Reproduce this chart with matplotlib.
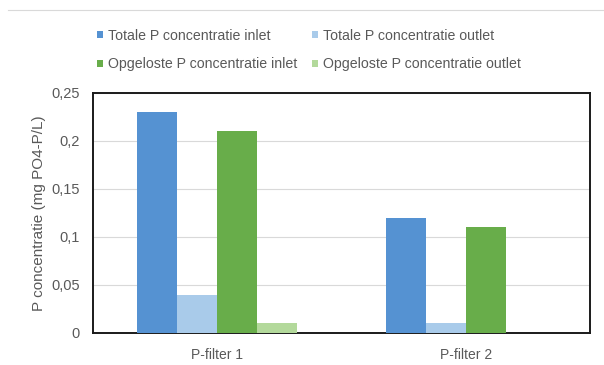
import matplotlib
matplotlib.use("Agg")
import matplotlib.pyplot as plt
from matplotlib.lines import Line2D
import numpy as np

plt.rcParams['font.family'] = ['Liberation Sans', 'DejaVu Sans']

categories = ["P-filter 1", "P-filter 2"]
series_names = [
    "Totale P concentratie inlet",
    "Totale P concentratie outlet",
    "Opgeloste P concentratie inlet",
    "Opgeloste P concentratie outlet",
]
totaal_inlet = [0.23, 0.12]
totaal_outlet = [0.04, 0.01]
opgelost_inlet = [0.21, 0.11]
opgelost_outlet = [0.01, 0.0]
y_ticks = [0, 0.05, 0.1, 0.15, 0.2, 0.25]
y_ticklabels = ["0", "0,05", "0,1", "0,15", "0,2", "0,25"]

colors = ["#5592D2", "#A9CBEA", "#68AD4A", "#B3D99B"]
TEXT = "#595959"

fig = plt.figure(figsize=(6.04, 3.65), dpi=100)
ax = fig.add_axes([93/604, 1 - 333/365, (590-93)/604, (333-93)/365])

x = np.arange(len(categories))
width = 0.161
all_series = [totaal_inlet, totaal_outlet, opgelost_inlet, opgelost_outlet]
handles = []
for i, (vals, name, col) in enumerate(zip(all_series, series_names, colors)):
    offs = (i - 1.5) * width
    b = ax.bar(x + offs, vals, width, color=col, label=name, zorder=3)
    handles.append(b)

ax.set_xlim(-0.5, 1.5)
ax.set_ylim(0, 0.25)
ax.set_yticks(y_ticks)
ax.set_yticklabels(y_ticklabels)
ax.set_xticks(x)
ax.set_xticklabels(categories)
ax.tick_params(axis='both', length=0, labelsize=10, colors=TEXT)
ax.tick_params(axis='y', labelsize=10.5)
ax.tick_params(axis='x', pad=10.5)
ax.tick_params(axis='y', pad=9.5)
ax.grid(axis='y', color='#D9D9D9', linewidth=0.8, zorder=0)
for s in ax.spines.values():
    s.set_color('#1a1a1a')
    s.set_linewidth(1.4)

ax.set_ylabel("P concentratie (mg PO4-P/L)", fontsize=11, color=TEXT, labelpad=4)

# legend fills column-wise, reorder so rows read like the original
order = [0, 2, 1, 3]
fig.legend(handles=[handles[i] for i in order], labels=[series_names[i] for i in order],
           loc='center', ncol=2,
           bbox_to_anchor=(309/604, 1 - 50/365), frameon=False, fontsize=10.2,
           handlelength=0.45, handleheight=0.45, handletextpad=0.35,
           columnspacing=1.0, labelspacing=1.05, labelcolor=TEXT)

fig.add_artist(Line2D([8/604, 1], [1 - 10/365, 1 - 10/365], color='#D9D9D9', linewidth=0.8))

fig.savefig("out.png", dpi=100)
